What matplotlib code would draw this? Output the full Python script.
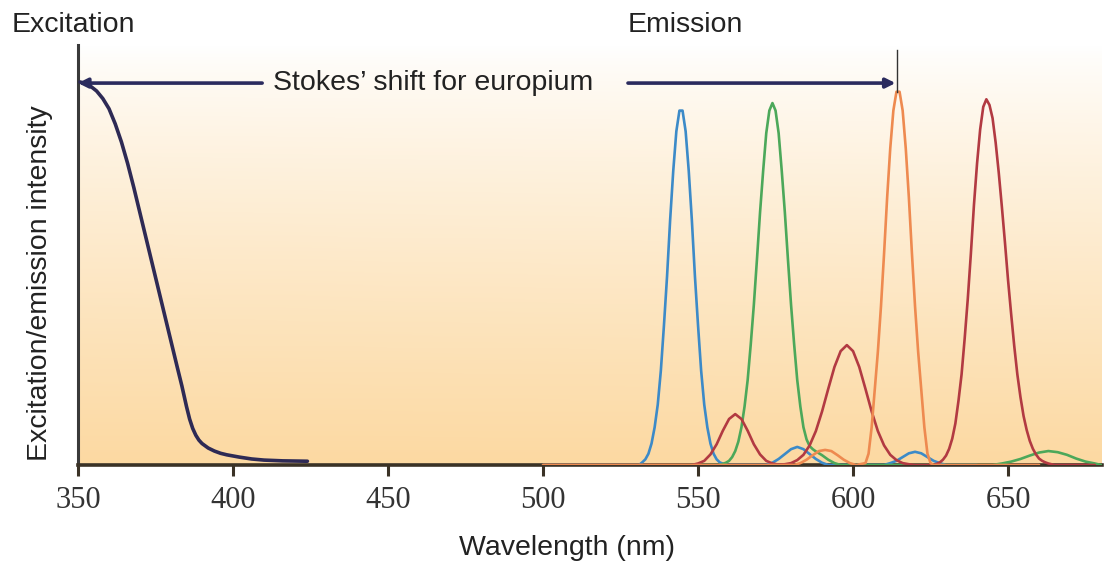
import numpy as np
import matplotlib
matplotlib.use("Agg")
import matplotlib.pyplot as plt
from matplotlib.colors import LinearSegmentedColormap

# ---------------- data ----------------
x_ticks = [350, 400, 450, 500, 550, 600, 650]
x_tick_labels = ["350", "400", "450", "500", "550", "600", "650"]

# Excitation spectrum (europium chelate)
exc_nm = [350.6, 352, 354, 356, 358, 360, 362, 364, 366, 368, 370, 372, 374, 376, 378,
          380, 382, 383.5, 385, 386, 387, 388, 389, 390, 392, 394, 396, 398, 402, 406,
          410, 416, 424]
exc_int = [1.016, 1.013, 1.005, 0.992, 0.972, 0.945, 0.905, 0.857, 0.800, 0.736, 0.668, 0.600, 0.532, 0.464, 0.396,
           0.328, 0.260, 0.210, 0.155, 0.122, 0.097, 0.079, 0.066, 0.057, 0.045, 0.037, 0.031, 0.027, 0.021, 0.016,
           0.013, 0.011, 0.010]

# Terbium emission (blue)
tb_nm = [500, 531, 532, 533, 534, 535, 536, 537, 538, 539, 540, 541, 542, 543, 544,
         545, 546, 547, 548, 549, 550, 551, 552, 553, 554, 555, 556, 557, 559,
         572, 574, 576, 578, 580, 582, 584, 586, 588, 590, 592,
         610, 612, 614, 616, 618, 620, 622, 624, 626, 628, 630, 640]
tb_int = [0, 0, 0.007, 0.015, 0.03, 0.057, 0.10, 0.16, 0.25, 0.37, 0.50, 0.65, 0.78, 0.885, 0.94,
          0.94, 0.885, 0.78, 0.65, 0.50, 0.37, 0.25, 0.16, 0.10, 0.057, 0.03, 0.015, 0.007, 0,
          0, 0.006, 0.016, 0.029, 0.042, 0.048, 0.042, 0.029, 0.016, 0.006, 0,
          0, 0.005, 0.011, 0.021, 0.031, 0.035, 0.031, 0.021, 0.011, 0.005, 0, 0]

# Dysprosium emission (green)
dy_nm = [500, 557, 559, 560, 561, 562, 563, 564, 565, 566, 567, 568, 569, 570, 571, 572,
         573, 574, 575, 576, 577, 578, 579, 580, 581, 582, 583, 584, 585, 586, 587, 588,
         589, 590, 592, 594, 596, 645, 648, 651, 654, 657, 660, 663, 666, 669, 672, 675,
         678, 680]
dy_int = [0, 0, 0.006, 0.011, 0.021, 0.037, 0.062, 0.10, 0.155, 0.225, 0.32, 0.425, 0.545, 0.67, 0.78, 0.88,
          0.94, 0.96, 0.94, 0.88, 0.78, 0.67, 0.545, 0.425, 0.32, 0.225, 0.155, 0.10, 0.068, 0.05, 0.042, 0.036,
          0.031, 0.026, 0.014, 0.005, 0, 0, 0.004, 0.009, 0.016, 0.025, 0.033, 0.037, 0.034, 0.027, 0.017, 0.009,
          0.004, 0]

# Europium emission (orange)
eu_nm = [500, 581, 583, 585, 587, 589, 591, 593, 595, 597, 599, 601, 604, 605, 606, 607,
         608, 609, 610, 611, 612, 613, 614, 615, 616, 617, 618, 619, 620, 621, 622, 623,
         624, 625, 626, 660]
eu_int = [0, 0, 0.005, 0.014, 0.026, 0.037, 0.04, 0.037, 0.026, 0.014, 0.005, 0, 0.005, 0.03, 0.10, 0.20,
          0.30, 0.42, 0.56, 0.71, 0.84, 0.94, 0.99, 0.99, 0.94, 0.84, 0.71, 0.56, 0.42, 0.30, 0.20, 0.10,
          0.03, 0.005, 0, 0]

# Samarium emission (red)
sm_nm = [500, 548, 550, 552, 554, 556, 558, 560, 562, 564, 566, 568, 570, 572, 574, 576,
         578, 580, 582, 584, 586, 588, 590, 592, 594, 596, 598, 600, 602, 604, 606, 608,
         610, 612, 614, 616, 618, 620, 626, 627, 628, 629, 630, 631, 632, 633, 634, 635,
         636, 637, 638, 639, 640, 641, 642, 643, 644, 645, 646, 647, 648, 649, 650, 651,
         652, 653, 654, 655, 656, 657, 658, 659, 660, 661, 662, 663, 665, 678]
sm_int = [0, 0, 0.004, 0.011, 0.028, 0.055, 0.091, 0.122, 0.135, 0.122, 0.091, 0.055, 0.028, 0.011, 0.004, 0.001,
          0.002, 0.005, 0.013, 0.027, 0.052, 0.09, 0.142, 0.202, 0.26, 0.302, 0.318, 0.302, 0.26, 0.202, 0.142, 0.09,
          0.052, 0.027, 0.013, 0.005, 0.002, 0, 0, 0.003, 0.007, 0.014, 0.025, 0.043, 0.07, 0.11, 0.17, 0.24,
          0.335, 0.44, 0.56, 0.69, 0.80, 0.89, 0.95, 0.97, 0.955, 0.92, 0.855, 0.775, 0.685, 0.59, 0.49, 0.40,
          0.315, 0.24, 0.18, 0.13, 0.093, 0.064, 0.043, 0.028, 0.017, 0.011, 0.007, 0.004, 0, 0]

stokes_from = 350.0
stokes_to = 614.3

# ---------------- figure ----------------
W, H, DPI = 1110, 567, 100
fig = plt.figure(figsize=(W / DPI, H / DPI), dpi=DPI, facecolor="white")
ax = fig.add_axes([78 / W, 102 / H, 1024 / W, 420 / H])
ax.set_xlim(350, 680.3)
ax.set_ylim(0, 1.114)

# background gradient (white top -> pale orange bottom); row 0 is the top
ny, nx = 200, 200
yy, xx = np.mgrid[0:1:ny * 1j, 0:1:nx * 1j]
alpha = np.clip(yy ** 0.8 * (1.0 - 0.10 * xx * (1 - yy)), 0, 1)
cmap = LinearSegmentedColormap.from_list("bg", ["#FFFFFF", "#FCD9A2"])
ax.imshow(alpha, cmap=cmap, vmin=0, vmax=1, aspect="auto", origin="upper",
          extent=[350, 680.3, 0, 1.114], zorder=0, interpolation="bilinear")

line_kw = dict(lw=1.9, solid_joinstyle="round", solid_capstyle="round", zorder=3)
ax.plot(tb_nm, tb_int, color="#3C8AC8", **line_kw)
ax.plot(dy_nm, dy_int, color="#4CA85A", **line_kw)
ax.plot(sm_nm, sm_int, color="#B23A42", **line_kw)
ax.plot(eu_nm, eu_int, color="#EE8A50", **line_kw)
ax.plot(exc_nm, exc_int, color="#2E2A55", lw=2.6, zorder=4,
        solid_joinstyle="round", solid_capstyle="round")

# Stokes' shift arrow
ycap = 1.013
arrow_col = "#2B2B5E"
ax.annotate("", xy=(stokes_from, ycap), xytext=(409.4, ycap),
            arrowprops=dict(arrowstyle="-|>", color=arrow_col, lw=2.6,
                            mutation_scale=14, shrinkA=0, shrinkB=0), zorder=5)
ax.annotate("", xy=(stokes_to - 0.6, ycap), xytext=(527.4, ycap),
            arrowprops=dict(arrowstyle="-|>", color=arrow_col, lw=2.6,
                            mutation_scale=14, shrinkA=0, shrinkB=0), zorder=5)
ax.plot([stokes_to, stokes_to], [0.99, 1.10], color="#333333", lw=1.0, zorder=5)
ax.text(464.5, ycap, "Stokes\u2019 shift for europium", ha="center", va="center",
        fontsize=20.5, family="Liberation Sans", color="#222222", zorder=6)

# axes styling
for s in ["top", "right"]:
    ax.spines[s].set_visible(False)
ax.spines["left"].set_color("#3A3A3A")
ax.spines["left"].set_linewidth(2.2)
ax.spines["bottom"].set_color("#3A3226")
ax.spines["bottom"].set_linewidth(2.6)
ax.set_yticks([])
ax.set_xticks(x_ticks)
ax.set_xticklabels(x_tick_labels, family="Liberation Serif", fontsize=22, color="#333333")
ax.tick_params(axis="x", direction="out", length=8, width=2.2, color="#3A3226", pad=7)

# labels
fig.text(12 / W, 1 - 25 / H, "Excitation", ha="left", va="center",
         fontsize=20.5, family="Liberation Sans", color="#222222")
fig.text(628 / W, 1 - 25 / H, "Emission", ha="left", va="center",
         fontsize=20.5, family="Liberation Sans", color="#222222")
fig.text(40 / W, 1 - 283 / H, "Excitation/emission intensity", ha="center", va="center",
         rotation=90, fontsize=20.5, family="Liberation Sans", color="#222222")
fig.text(567 / W, 1 - 548 / H, "Wavelength (nm)", ha="center", va="center",
         fontsize=20.5, family="Liberation Sans", color="#222222")

fig.savefig("out.png", dpi=DPI, facecolor="white")
